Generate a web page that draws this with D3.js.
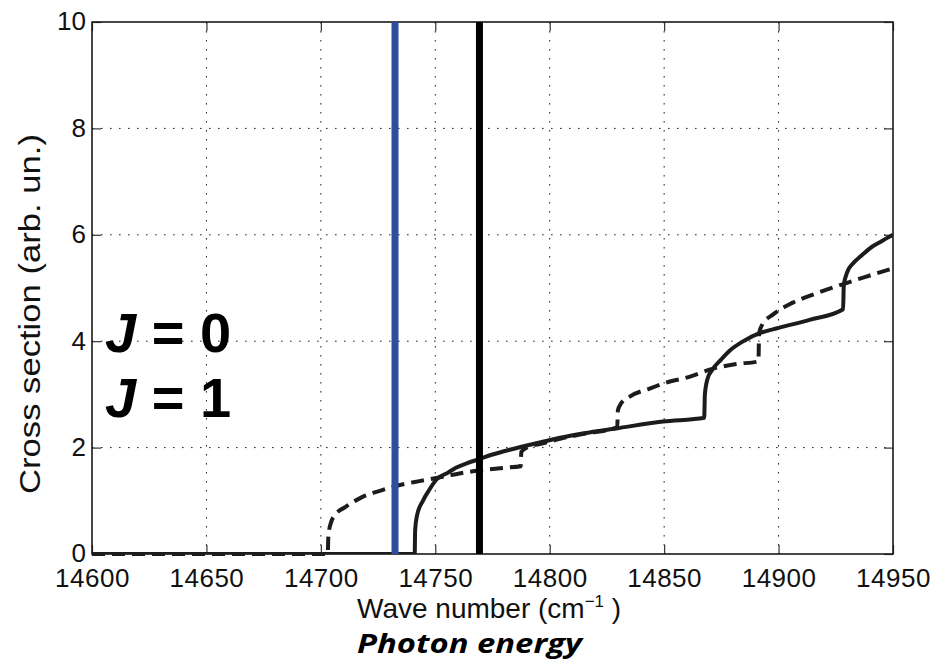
<!DOCTYPE html>
<html>
<head>
<meta charset="utf-8">
<script src="https://cdn.jsdelivr.net/npm/d3@7"></script>
<style>
  html, body { margin: 0; padding: 0; background: #fff; }
  svg { display: block; }
</style>
</head>
<body>
<svg id="chart" width="939" height="660"></svg>
<script>
// Axis ticks
const waveTicks = [14600, 14650, 14700, 14750, 14800, 14850, 14900, 14950];
const sigmaTicks = [0, 2, 4, 6, 8, 10];

// Solid curve (J = 0 channel sum)
const solidWave = [14600, 14741, 14741.2, 14742, 14744.7, 14747, 14750.5, 14755.6, 14759, 14764, 14769,
  14775, 14782.5, 14790, 14797, 14804, 14815, 14829, 14849.5, 14867.5, 14867.8, 14869, 14871, 14875,
  14878.6, 14885, 14891.7, 14900, 14913.5, 14928.2, 14928.5, 14930, 14932.5, 14936, 14941, 14945, 14950];
const solidSigma = [0, 0, 0.45, 0.72, 1.01, 1.18, 1.40, 1.53, 1.62, 1.71, 1.78,
  1.87, 1.96, 2.04, 2.11, 2.18, 2.27, 2.36, 2.49, 2.56, 3.0, 3.3, 3.46, 3.66,
  3.82, 4.01, 4.15, 4.25, 4.40, 4.60, 5.05, 5.30, 5.46, 5.60, 5.78, 5.88, 6.0];

// Dashed curve (J = 1 channel sum)
const dashedWave = [14600, 14703, 14703.3, 14704.5, 14706, 14711, 14718, 14726, 14732, 14743, 14750.5,
  14760, 14769, 14780, 14787.3, 14787.6, 14790, 14797, 14805, 14815, 14829.5, 14829.8, 14831, 14835,
  14843.7, 14850, 14861, 14871, 14881.5, 14891.2, 14891.5, 14893, 14897.5, 14906, 14916.5, 14928, 14938, 14950];
const dashedSigma = [0, 0, 0.35, 0.6, 0.72, 0.89, 1.07, 1.19, 1.27, 1.37, 1.43,
  1.51, 1.57, 1.62, 1.65, 1.92, 2.0, 2.08, 2.17, 2.26, 2.38, 2.7, 2.82, 2.96,
  3.11, 3.21, 3.33, 3.48, 3.57, 3.62, 4.15, 4.32, 4.50, 4.72, 4.90, 5.07, 5.21, 5.37];

// Photon energy markers
const markerWaves = [14732.4, 14769.3];
const markerColors = ["#2e4d9e", "#000000"];
const jLabels = ["0", "1"];

const svg = d3.select("#chart");
const m = { left: 92, right: 893, top: 22, bottom: 554 };
const x = d3.scaleLinear().domain([14600, 14950]).range([m.left, m.right]);
const y = d3.scaleLinear().domain([0, 10]).range([m.bottom, m.top]);
const W = m.right - m.left, H = m.bottom - m.top;
const font = "'Liberation Sans', Arial, Helvetica, sans-serif";

svg.append("defs").append("clipPath").attr("id", "plotClip")
  .append("rect").attr("x", m.left).attr("y", m.top).attr("width", W).attr("height", H);

// Dotted grid
const grid = svg.append("g");
grid.selectAll("line.gx").data(waveTicks.slice(1, -1)).join("line")
  .attr("x1", d => x(d)).attr("x2", d => x(d)).attr("y1", m.top).attr("y2", m.bottom)
  .attr("stroke", "#222").attr("stroke-width", 1).attr("stroke-dasharray", "1.6,7.4");
grid.selectAll("line.gy").data(sigmaTicks.slice(1, -1)).join("line")
  .attr("y1", d => y(d)).attr("y2", d => y(d)).attr("x1", m.left).attr("x2", m.right)
  .attr("stroke", "#222").attr("stroke-width", 1).attr("stroke-dasharray", "1.6,7.4");

// Axes with inward ticks on all four sides
const tickLen = 9;
const xb = svg.append("g").attr("transform", `translate(0,${m.bottom})`)
  .call(d3.axisBottom(x).tickValues(waveTicks).tickFormat(d3.format("d"))
    .tickSizeInner(-tickLen).tickSizeOuter(0).tickPadding(15));
const yl = svg.append("g").attr("transform", `translate(${m.left},0)`)
  .call(d3.axisLeft(y).tickValues(sigmaTicks).tickFormat(d3.format("d"))
    .tickSizeInner(-tickLen).tickSizeOuter(0).tickPadding(6));
const xt = svg.append("g").attr("transform", `translate(0,${m.top})`)
  .call(d3.axisTop(x).tickValues(waveTicks).tickSizeInner(-tickLen).tickSizeOuter(0).tickFormat(""));
const yr = svg.append("g").attr("transform", `translate(${m.right},0)`)
  .call(d3.axisRight(y).tickValues(sigmaTicks).tickSizeInner(-tickLen).tickSizeOuter(0).tickFormat(""));
[xb, yl, xt, yr].forEach(g => {
  g.select(".domain").remove();
  g.selectAll(".tick line").attr("stroke", "#333").attr("stroke-width", 1.2);
  g.selectAll(".tick text").attr("font-family", font).attr("font-size", 26).attr("fill", "#111");
});
xb.selectAll(".tick text").attr("letter-spacing", "0.5px").attr("dy", "0.71em");
yl.selectAll(".tick text").attr("dy", "0.3em");

// Box
svg.append("rect").attr("x", m.left).attr("y", m.top).attr("width", W).attr("height", H)
  .attr("fill", "none").attr("stroke", "#1a1a1a").attr("stroke-width", 1.6);

// Curves
const line = d3.line().x(d => x(d[0])).y(d => y(d[1])).curve(d3.curveMonotoneX);
svg.append("path").datum(d3.zip(solidWave, solidSigma))
  .attr("clip-path", "url(#plotClip)")
  .attr("d", line).attr("fill", "none").attr("stroke", "#1c1c1c")
  .attr("stroke-width", 4).attr("stroke-linejoin", "round");
svg.append("path").datum(d3.zip(dashedWave, dashedSigma))
  .attr("d", line).attr("fill", "none").attr("stroke", "#1c1c1c")
  .attr("stroke-width", 4).attr("stroke-dasharray", "13,7");

// Vertical photon-energy markers
svg.selectAll("line.marker").data(markerWaves).join("line")
  .attr("x1", d => x(d)).attr("x2", d => x(d)).attr("y1", y(0)).attr("y2", y(10))
  .attr("stroke", (d, i) => markerColors[i]).attr("stroke-width", 7);

// J labels
const jt = svg.append("g").attr("font-family", font).attr("font-weight", "bold").attr("font-size", 56).attr("fill", "#000");
jLabels.forEach((v, i) => {
  const t = jt.append("text").attr("x", 105).attr("y", 352 + i * 65);
  t.append("tspan").attr("font-style", "italic").text("J");
  t.append("tspan").text(" = " + v);
});

// Axis titles
const xl = svg.append("text").attr("x", 357).attr("y", 618)
  .attr("font-family", font).attr("font-size", 28).attr("fill", "#111");
xl.append("tspan").text("Wave number (cm");
xl.append("tspan").attr("font-size", 17).attr("dy", -11).text("\u22121");
xl.append("tspan").attr("dy", 11).text(" )");

svg.append("text").attr("transform", `translate(40,314) rotate(-90)`)
  .attr("text-anchor", "middle").attr("font-family", font).attr("font-size", 30).attr("fill", "#111")
  .attr("textLength", 360).attr("lengthAdjust", "spacingAndGlyphs")
  .text("Cross section (arb. un.)");

svg.append("text").attr("x", 357).attr("y", 653)
  .attr("font-family", "'Open Sans', 'Noto Sans', sans-serif").attr("font-weight", "bold")
  .attr("font-style", "italic").attr("font-size", 27).attr("fill", "#000")
  .attr("textLength", 225).attr("lengthAdjust", "spacingAndGlyphs")
  .text("Photon energy");
</script>
</body>
</html>
